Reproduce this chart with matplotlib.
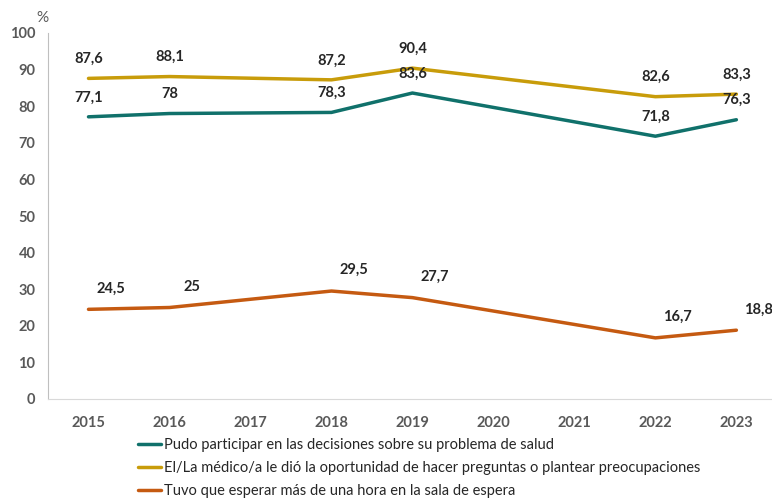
import matplotlib
matplotlib.use("Agg")
import matplotlib.pyplot as plt

plt.rcParams['font.family'] = ['Lato', 'DejaVu Sans']

# categories on the x axis
years = ['2015', '2016', '2017', '2018', '2019', '2020', '2021', '2022', '2023']

# years that have data (index into the list above)
data_years = ['2015', '2016', '2018', '2019', '2022', '2023']

participar = [77.1, 78, 78.3, 83.6, 71.8, 76.3]
preguntas = [87.6, 88.1, 87.2, 90.4, 82.6, 83.3]
esperar = [24.5, 25, 29.5, 27.7, 16.7, 18.8]

names = ["Pudo participar en las decisiones sobre su problema de salud",
         "El/La médico/a le dió la oportunidad de hacer preguntas o plantear preocupaciones",
         "Tuvo que esperar más de una hora en la sala de espera"]
colors = ["#10716B", "#C89C0A", "#C55A11"]

fig = plt.figure(figsize=(7.72, 5.01), dpi=100)
ax = fig.add_axes([48/772, 102/501, 724/772, 366/501])

xs = [years.index(y) for y in data_years]

series = [participar, preguntas, esperar]
# label offsets in points (dx, dy)
offsets = [(0, 9), (0, 9), (16, 10)]
for vals, name, col, off in zip(series, names, colors, offsets):
    ax.plot(xs, vals, color=col, lw=2.5, label=name, solid_capstyle='round')
    for x, v in zip(xs, vals):
        lbl = ('%g' % v).replace('.', ',')
        ax.annotate(lbl, (x, v), textcoords='offset points', xytext=off,
                    ha='center', va='bottom', fontsize=10.5, fontweight='bold',
                    color='#262626')

ax.set_xlim(-0.5, 8.44)
ax.set_ylim(0, 100)
ax.set_yticks(range(0, 101, 10))
ax.set_xticks(range(len(years)))
ax.set_xticklabels(years)
ax.tick_params(length=0, labelsize=10.5, colors='#595959', pad=12)
ax.tick_params(axis='y', pad=9)
for t in ax.get_xticklabels() + ax.get_yticklabels():
    t.set_fontweight('bold')

for s in ['top', 'right']:
    ax.spines[s].set_visible(False)
ax.spines['left'].set_color('#BFBFBF')
ax.spines['bottom'].set_color('#D9D9D9')

fig.text(42/772, 1 - 18/501, '%', fontsize=11, color='#595959', ha='center', va='center')

fig.legend(loc='upper left', bbox_to_anchor=(132/772, 1 - 432/501), frameon=False,
           handlelength=1.6, handletextpad=0.2, labelspacing=0.62, fontsize=10.5,
           labelcolor='#262626', borderaxespad=0)

fig.savefig('out.png', dpi=100)
